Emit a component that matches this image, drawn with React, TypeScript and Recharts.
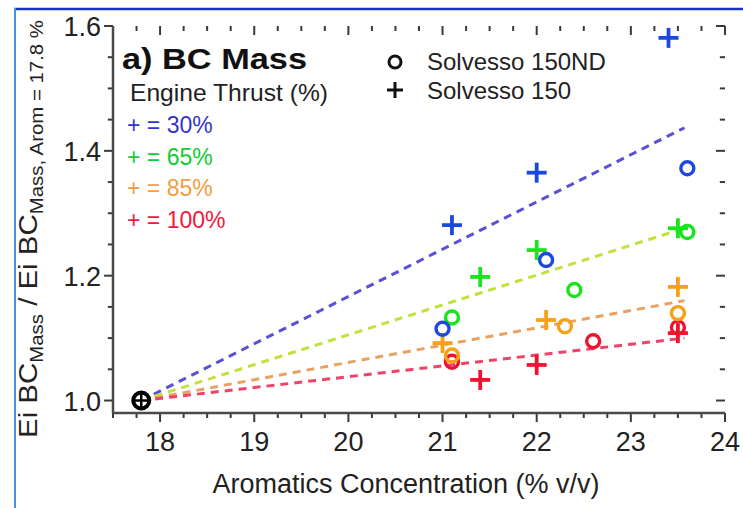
import React from 'react';
import { ScatterChart, Scatter, XAxis, YAxis, ReferenceLine, Customized } from 'recharts';

// ---- axis ticks ----
const xTicks = [17.5, 17.75, 18, 18.25, 18.5, 18.75, 19, 19.25, 19.5, 19.75, 20, 20.25, 20.5, 20.75, 21, 21.25, 21.5, 21.75, 22, 22.25, 22.5, 22.75, 23, 23.25, 23.5, 23.75, 24];
const yTicks = [1.0, 1.05, 1.1, 1.15, 1.2, 1.25, 1.3, 1.35, 1.4, 1.45, 1.5, 1.55, 1.6];
const xLabels = [18, 19, 20, 21, 22, 23, 24];
const yLabels = [1.0, 1.2, 1.4, 1.6];

// ---- data: Solvesso 150ND (circles) and Solvesso 150 (pluses) by engine thrust ----
const referencePoint = [{ x: 17.8, y: 1.0 }];
const nd30 = [{ x: 21.0, y: 1.115 }, { x: 22.1, y: 1.225 }, { x: 23.6, y: 1.372 }];
const s30 = [{ x: 21.1, y: 1.281 }, { x: 22.0, y: 1.365 }, { x: 23.4, y: 1.581 }];
const nd65 = [{ x: 21.1, y: 1.133 }, { x: 22.4, y: 1.177 }, { x: 23.6, y: 1.27 }];
const s65 = [{ x: 21.4, y: 1.198 }, { x: 22.0, y: 1.241 }, { x: 23.5, y: 1.276 }];
const nd85 = [{ x: 21.1, y: 1.072 }, { x: 22.3, y: 1.119 }, { x: 23.5, y: 1.14 }];
const s85 = [{ x: 21.0, y: 1.092 }, { x: 22.1, y: 1.129 }, { x: 23.5, y: 1.182 }];
const nd100 = [{ x: 21.1, y: 1.062 }, { x: 22.6, y: 1.095 }, { x: 23.5, y: 1.117 }];
const s100 = [{ x: 21.4, y: 1.033 }, { x: 22.0, y: 1.057 }, { x: 23.5, y: 1.108 }];

// ---- dashed fit lines (start at reference point) ----
const fitStart = { x: 17.8, y: 1.0 };
const fit30End = { x: 23.57, y: 1.437 };
const fit65End = { x: 23.57, y: 1.276 };
const fit85End = { x: 23.57, y: 1.16 };
const fit100End = { x: 23.57, y: 1.1 };

const thrustLabels = ['+ = 30%', '+ = 65%', '+ = 85%', '+ = 100%'];
const fuelLabels = ['Solvesso 150ND', 'Solvesso 150'];

const X_MIN = 17.5, X_MAX = 24, Y_MIN = 0.98, Y_MAX = 1.6;

const C30 = '#1c48e0';
const C65 = '#19e41c';
const C85 = '#f6a116';
const C100 = '#f0122f';
const AX = '#4a4a4a';
const TK = '#3a3a3a';
const FONT = '"Liberation Sans", Arial, sans-serif';

const circleShape = (color: string) => (p: any) => (
  <circle cx={p.cx} cy={p.cy} r={6.5} fill="none" stroke={color} strokeWidth={3.4} />
);
const plusShape = (color: string) => (p: any) => (
  <g stroke={color} strokeWidth={3.8}>
    <line x1={p.cx - 10} x2={p.cx + 10} y1={p.cy} y2={p.cy} />
    <line x1={p.cx} x2={p.cx} y1={p.cy - 10} y2={p.cy + 10} />
  </g>
);
const refShape = (p: any) => (
  <g>
    <circle cx={p.cx} cy={p.cy} r={8} fill="#fff" stroke="#000" strokeWidth={4} />
    <line x1={p.cx - 9} x2={p.cx + 9} y1={p.cy} y2={p.cy} stroke="#000" strokeWidth={2.5} />
    <line x1={p.cx} x2={p.cx} y1={p.cy - 9} y2={p.cy + 9} stroke="#000" strokeWidth={2.5} />
  </g>
);

const isInt = (v: number) => Math.abs(v - Math.round(v)) < 1e-6;
const isMajorY = (v: number) => Math.abs(v * 5 - Math.round(v * 5)) < 1e-6;

// tick lengths in data units (x: ~94 px/unit, y: ~624 px/unit)
const xLen = (v: number) => (isInt(v) ? 0.095 : 0.055);
const yLen = (v: number) => (isMajorY(v) ? 0.0145 : 0.008);
const xLenH = (v: number) => (isMajorY(v) ? 0.095 : 0.055);
const yLenV = (v: number) => (isInt(v) ? 0.0145 : 0.008);

const BottomTick = (p: any) => {
  const v = p.payload.value;
  if (!xLabels.includes(v)) return <g />;
  return <text x={p.x} y={p.y + 38} textAnchor="middle" fontSize={27} fill="#222" fontFamily={FONT}>{v}</text>;
};
const LeftTick = (p: any) => {
  const v = p.payload.value;
  if (!yLabels.some((l) => Math.abs(l - v) < 1e-6)) return <g />;
  return <text x={p.x - 12} y={p.y + 10} textAnchor="end" fontSize={27} fill="#222" fontFamily={FONT}>{v.toFixed(1)}</text>;
};

const Overlay = () => (
  <g fontFamily={FONT}>
    <line x1={14} x2={743} y1={9} y2={9} stroke="#1a2fc8" strokeWidth={2.5} />
    <line x1={15} x2={15} y1={8} y2={508} stroke="#4a90e0" strokeWidth={2} />
    <text x={122} y={69} fontSize={29} fontWeight="bold" fill="#111" textLength={185} lengthAdjust="spacingAndGlyphs">a) BC Mass</text>
    <text x={130} y={101} fontSize={24} fill="#222" textLength={198} lengthAdjust="spacingAndGlyphs">Engine Thrust (%)</text>
    {thrustLabels.map((t, i) => (
      <text key={t} x={127} y={133 + i * 31.7} fontSize={23} fill={['#3434cc', '#12cc34', '#f0a040', '#f0183c'][i]}>{t}</text>
    ))}
    <circle cx={395} cy={62} r={6} fill="none" stroke="#111" strokeWidth={3} />
    <text x={427} y={70} fontSize={24} fill="#222">{fuelLabels[0]}</text>
    <g stroke="#111" strokeWidth={3}>
      <line x1={387} x2={403} y1={90} y2={90} />
      <line x1={395} x2={395} y1={82} y2={98} />
    </g>
    <text x={427} y={99} fontSize={24} fill="#222">{fuelLabels[1]}</text>
    <text x={406} y={493} fontSize={27} fill="#222" textAnchor="middle">Aromatics Concentration (% v/v)</text>
    <text x={37} y={438} transform="rotate(-90, 37, 438)" fontSize={26} fill="#222" textLength={418} lengthAdjust="spacingAndGlyphs">
      Ei BC<tspan fontSize={18} dy={6}>Mass</tspan><tspan dy={-6}> / Ei BC</tspan><tspan fontSize={18} dy={6}>Mass, Arom = 17.8 %</tspan>
    </text>
  </g>
);

export default function App() {
  return (
    <div style={{ position: 'absolute', left: 0, top: 0, width: 743, height: 508, background: '#fff' }}>
      <ScatterChart width={743} height={508} margin={{ top: 26, right: 18, bottom: 0, left: 0 }} style={{ fontFamily: FONT }}>
        <XAxis xAxisId="b" type="number" dataKey="x" domain={[X_MIN, X_MAX]} ticks={xTicks} interval={0} allowDataOverflow
          height={95} tickSize={0} tickMargin={0} tickLine={false} axisLine={{ stroke: AX, strokeWidth: 2.5 }} tick={<BottomTick />} />
        <XAxis xAxisId="t" orientation="top" type="number" dataKey="x" domain={[X_MIN, X_MAX]} allowDataOverflow
          height={0} tick={false} tickLine={false} axisLine={{ stroke: AX, strokeWidth: 2.5 }} />
        <YAxis yAxisId="l" type="number" dataKey="y" domain={[Y_MIN, Y_MAX]} ticks={yTicks} interval={0} allowDataOverflow
          width={113} tickSize={0} tickMargin={0} tickLine={false} axisLine={{ stroke: AX, strokeWidth: 2.5 }} tick={<LeftTick />} />
        <YAxis yAxisId="r" orientation="right" type="number" dataKey="y" domain={[Y_MIN, Y_MAX]} allowDataOverflow
          width={0} tick={false} tickLine={false} axisLine={{ stroke: AX, strokeWidth: 2.5 }} />

        {xTicks.map((v) => (
          <ReferenceLine key={'bt' + v} xAxisId="b" yAxisId="l" ifOverflow="visible" stroke={TK} strokeWidth={2}
            segment={[{ x: v, y: Y_MIN }, { x: v, y: Y_MIN - yLenV(v) }]} />
        ))}
        {xTicks.map((v) => (
          <ReferenceLine key={'tt' + v} xAxisId="b" yAxisId="l" ifOverflow="visible" stroke={TK} strokeWidth={2}
            segment={[{ x: v, y: Y_MAX }, { x: v, y: Y_MAX - yLenV(v) }]} />
        ))}
        {yTicks.map((v) => (
          <ReferenceLine key={'lt' + v} xAxisId="b" yAxisId="l" ifOverflow="visible" stroke={TK} strokeWidth={2}
            segment={[{ x: X_MIN, y: v }, { x: X_MIN - xLenH(v), y: v }]} />
        ))}
        {yTicks.map((v) => (
          <ReferenceLine key={'rt' + v} xAxisId="b" yAxisId="l" ifOverflow="visible" stroke={TK} strokeWidth={2}
            segment={[{ x: X_MAX, y: v }, { x: X_MAX - xLenH(v), y: v }]} />
        ))}

        <ReferenceLine xAxisId="b" yAxisId="l" segment={[fitStart, fit30End]} stroke="#5a4fd6" strokeWidth={3} strokeDasharray="8 6" ifOverflow="visible" />
        <ReferenceLine xAxisId="b" yAxisId="l" segment={[fitStart, fit65End]} stroke="#bfe23c" strokeWidth={3} strokeDasharray="8 6" ifOverflow="visible" />
        <ReferenceLine xAxisId="b" yAxisId="l" segment={[fitStart, fit85End]} stroke="#e9a264" strokeWidth={3} strokeDasharray="8 6" ifOverflow="visible" />
        <ReferenceLine xAxisId="b" yAxisId="l" segment={[fitStart, fit100End]} stroke="#ee4468" strokeWidth={3} strokeDasharray="8 6" ifOverflow="visible" />

        <Scatter xAxisId="b" yAxisId="l" data={s100} shape={plusShape(C100)} isAnimationActive={false} />
        <Scatter xAxisId="b" yAxisId="l" data={s85} shape={plusShape(C85)} isAnimationActive={false} />
        <Scatter xAxisId="b" yAxisId="l" data={nd100} shape={circleShape(C100)} isAnimationActive={false} />
        <Scatter xAxisId="b" yAxisId="l" data={nd85} shape={circleShape(C85)} isAnimationActive={false} />
        <Scatter xAxisId="b" yAxisId="l" data={s65} shape={plusShape(C65)} isAnimationActive={false} />
        <Scatter xAxisId="b" yAxisId="l" data={nd65} shape={circleShape(C65)} isAnimationActive={false} />
        <Scatter xAxisId="b" yAxisId="l" data={s30} shape={plusShape(C30)} isAnimationActive={false} />
        <Scatter xAxisId="b" yAxisId="l" data={nd30} shape={circleShape(C30)} isAnimationActive={false} />
        <Scatter xAxisId="b" yAxisId="l" data={referencePoint} shape={refShape} isAnimationActive={false} />

        <Customized component={Overlay} />
      </ScatterChart>
    </div>
  );
}
